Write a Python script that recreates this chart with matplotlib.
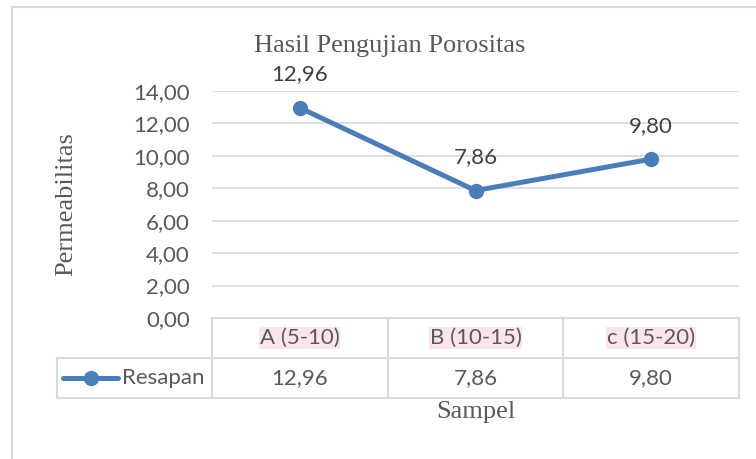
import matplotlib.pyplot as plt
from matplotlib.lines import Line2D

categories = ["A (5-10)", "B (10-15)", "c (15-20)"]
resapan = [12.96, 7.86, 9.80]
series_name = "Resapan"
yticks = [0, 2, 4, 6, 8, 10, 12, 14]


def fmt(v):
    return f"{v:.2f}".replace(".", ",")


W, H = 756, 459
fig = plt.figure(figsize=(W / 100, H / 100), dpi=100)
fig.patch.set_facecolor("white")

# axes box in pixels: x 212..739, y 91..318
left, right, top, bottom = 212, 739, 91, 318
ax = fig.add_axes([left / W, 1 - bottom / H, (right - left) / W, (bottom - top) / H])

line_c = "#4a7ebb"
grid_c = "#d9d9d9"
txt_c = "#595959"
num_font = "Lato"
fs = 16
serif_fs = 19
lw, ms = 3.6, 10

x = [i + 0.5 for i in range(len(categories))]
ax.plot(x, resapan, color=line_c, lw=lw, marker="o", ms=ms, solid_capstyle="round", zorder=3)
for xi, v in zip(x, resapan):
    ax.annotate(fmt(v), (xi, v), xytext=(0, 24), textcoords="offset points",
                ha="center", va="center", fontsize=fs, color="#404040", family=num_font)

ax.set_xlim(0, len(categories))
ax.set_ylim(0, 14)
ax.set_yticks(yticks)
ax.set_yticklabels([fmt(t) for t in yticks], fontsize=fs, color=txt_c, family=num_font)
ax.tick_params(axis="y", length=0, pad=16)
ax.set_xticks([])
for s in ax.spines.values():
    s.set_visible(False)
ax.grid(axis="y", color=grid_c, lw=1.2)
ax.set_axisbelow(True)

# data table below the axes
row_h = 40 / (bottom - top)
leg_left = (57 - left) / (right - left)
tkw = dict(transform=ax.transAxes, clip_on=False, color=grid_c, lw=1.5)
ax.add_line(Line2D([0, 1], [0, 0], **tkw))
ax.add_line(Line2D([leg_left, 1], [-row_h, -row_h], **tkw))
ax.add_line(Line2D([leg_left, 1], [-2 * row_h, -2 * row_h], **tkw))
ax.add_line(Line2D([leg_left, leg_left], [-row_h, -2 * row_h], **tkw))
n = len(categories)
for i in range(n + 1):
    ax.add_line(Line2D([i / n, i / n], [0, -2 * row_h], **tkw))

for i, (c, v) in enumerate(zip(categories, resapan)):
    xc = (i + 0.5) / n
    ax.text(xc, -0.5 * row_h, c, transform=ax.transAxes, ha="center", va="center",
            fontsize=fs, color=txt_c, family=num_font,
            bbox=dict(facecolor="#fce4ec", edgecolor="none", pad=0.5))
    ax.text(xc, -1.5 * row_h, fmt(v), transform=ax.transAxes, ha="center", va="center",
            fontsize=fs, color=txt_c, family=num_font)

# legend key inside the table
lx0 = (63 - left) / (right - left)
lx1 = (118 - left) / (right - left)
ax.add_line(Line2D([lx0, lx1], [-1.5 * row_h] * 2, transform=ax.transAxes, clip_on=False,
                   color=line_c, lw=lw, solid_capstyle="round"))
ax.add_line(Line2D([(lx0 + lx1) / 2], [-1.5 * row_h], transform=ax.transAxes, clip_on=False,
                   color=line_c, marker="o", ms=ms))
ax.text((122 - left) / (right - left), -1.5 * row_h, series_name, transform=ax.transAxes,
        ha="left", va="center", fontsize=fs, color=txt_c, family=num_font)

# titles in serif
fig.text(390 / W, 1 - 46 / H, "Hasil Pengujian Porositas", ha="center", va="center",
         fontsize=serif_fs, color=txt_c, family="Liberation Serif")
fig.text(66 / W, 1 - 204 / H, "Permeabilitas", ha="center", va="center", rotation=90,
         fontsize=serif_fs, color=txt_c, family="Liberation Serif")
fig.text(476 / W, 1 - 412 / H, "Sampel", ha="center", va="center",
         fontsize=serif_fs, color=txt_c, family="Liberation Serif")

# chart area border (left and top edges visible)
fig.add_artist(Line2D([12 / W, 12 / W], [0, 1 - 7 / H], color=grid_c, lw=1.5))
fig.add_artist(Line2D([12 / W, 1], [1 - 7 / H, 1 - 7 / H], color=grid_c, lw=1.5))

fig.savefig("out.png", dpi=100)
